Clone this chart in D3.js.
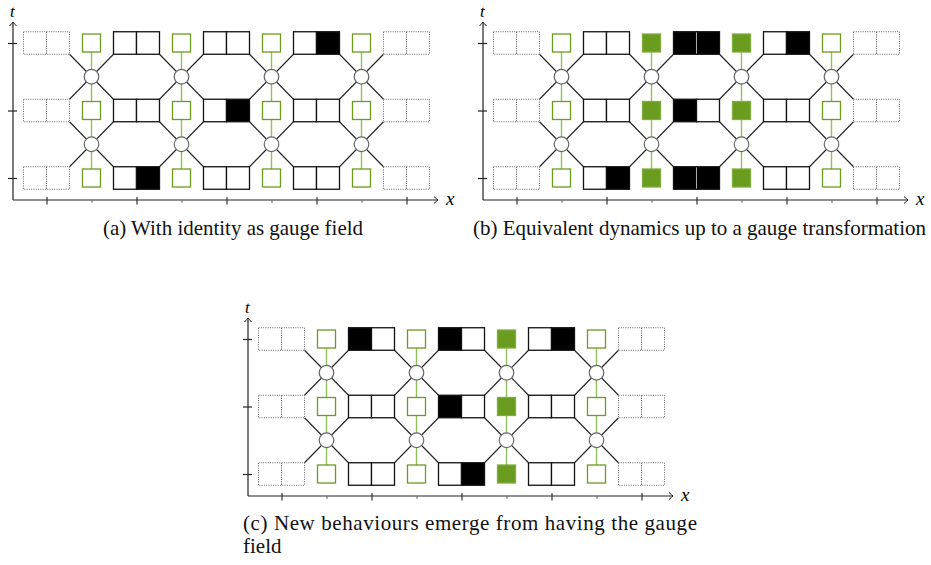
<!DOCTYPE html>
<html>
<head>
<meta charset="utf-8">
<script src="https://cdn.jsdelivr.net/npm/d3@7"></script>
<style>
  html, body { margin: 0; padding: 0; background: #fff; }
  svg { display: block; }
</style>
</head>
<body>
<svg id="chart" width="931" height="565"></svg>
<script>
// ---------------- data ----------------
// time steps (rows, bottom = 0) and tick values
const timeTicks = [0, 1, 2];
const spaceTicks = [0, 0.5, 1, 1.5, 2, 2.5, 3, 3.5, 4];
// pair columns: 0 and 4 are dotted boundary pairs, 1..3 are inner pairs
const pairColumns = [1, 2, 3];
const boundaryColumns = [0, 4];
// gauge columns sit between pairs
const gaugeColumns = [0.5, 1.5, 2.5, 3.5];

// cell states [t][pair][cell] : 1 = black (particle), 0 = empty
const cellsA = [
  [[0, 1], [0, 0], [0, 0]],
  [[0, 0], [0, 1], [0, 0]],
  [[0, 0], [0, 0], [0, 1]]
];
const gaugeA = [
  [0, 0, 0, 0],
  [0, 0, 0, 0],
  [0, 0, 0, 0]
];
const cellsB = [
  [[0, 1], [1, 1], [0, 0]],
  [[0, 0], [1, 0], [0, 0]],
  [[0, 0], [1, 1], [0, 1]]
];
const gaugeB = [
  [0, 1, 1, 0],
  [0, 1, 1, 0],
  [0, 1, 1, 0]
];
const cellsC = [
  [[0, 0], [0, 1], [0, 0]],
  [[0, 0], [1, 0], [0, 0]],
  [[1, 0], [1, 0], [0, 1]]
];
const gaugeC = [
  [0, 0, 1, 0],
  [0, 0, 1, 0],
  [0, 0, 1, 0]
];
const captionA = "(a) With identity as gauge field";
const captionB = "(b) Equivalent dynamics up to a gauge transformation";
const captionC1 = "(c) New behaviours emerge from having the gauge";
const captionC2 = "field";
const axisLabelT = "t";
const axisLabelX = "x";

// ---------------- layout ----------------
const svg = d3.select("#chart");
const SERIF = '"Liberation Serif"';
const GREEN = "#6a9c1f";
const GREEN_LINE = "#8fc05a";
const CELL = 23, CELL_H = 22.5, GSQ = 18, R = 7.3;

const xs = d3.scaleLinear().domain([0, 4]).range([46.5, 406.5]);
const ys = d3.scaleLinear().domain([0, 2]).range([178, 43]);

function drawPanel(g, cells, gauge) {
  const axX0 = 13, axY0 = 200, axXEnd = 438, axYEnd = 22;

  const lines = g.append("g");
  gaugeColumns.forEach(c => {
    lines.append("line")
      .attr("x1", xs(c)).attr("x2", xs(c))
      .attr("y1", ys(2)).attr("y2", ys(0))
      .attr("stroke", GREEN_LINE).attr("stroke-width", 1.4);
  });
  const nodes = [];
  gaugeColumns.forEach(c => [0.5, 1.5].forEach(t => nodes.push({c, t})));
  nodes.forEach(n => {
    const cx = xs(n.c), cy = ys(n.t);
    const left = xs(n.c - 0.5) + CELL, right = xs(n.c + 0.5) - CELL;
    const up = ys(n.t + 0.5) + CELL_H / 2, down = ys(n.t - 0.5) - CELL_H / 2;
    [[left, up], [right, up], [left, down], [right, down]].forEach(p => {
      lines.append("line")
        .attr("x1", cx).attr("y1", cy).attr("x2", p[0]).attr("y2", p[1])
        .attr("stroke", "#222").attr("stroke-width", 1.1);
    });
  });

  timeTicks.forEach(t => {
    boundaryColumns.forEach(c => {
      [0, 1].forEach(i => {
        g.append("rect")
          .attr("x", xs(c) - CELL + i * CELL).attr("y", ys(t) - CELL_H / 2)
          .attr("width", CELL).attr("height", CELL_H)
          .attr("fill", "#fff").attr("stroke", "#666")
          .attr("stroke-width", 1).attr("stroke-dasharray", "1,1.3");
      });
    });
  });

  timeTicks.forEach(t => {
    pairColumns.forEach((c, pi) => {
      cells[t][pi].forEach((v, i) => {
        g.append("rect")
          .attr("x", xs(c) - CELL + i * CELL).attr("y", ys(t) - CELL_H / 2)
          .attr("width", CELL).attr("height", CELL_H)
          .attr("fill", v ? "#000" : "#fff")
          .attr("stroke", "#111").attr("stroke-width", 1.3);
      });
      if (cells[t][pi][0] && cells[t][pi][1]) {
        g.append("line")
          .attr("x1", xs(c)).attr("x2", xs(c))
          .attr("y1", ys(t) - CELL_H / 2 + 0.7).attr("y2", ys(t) + CELL_H / 2 - 0.7)
          .attr("stroke", "#aaa").attr("stroke-width", 1);
      }
    });
  });

  timeTicks.forEach(t => {
    gaugeColumns.forEach((c, gi) => {
      const v = gauge[t][gi];
      g.append("rect")
        .attr("x", xs(c) - GSQ / 2).attr("y", ys(t) - GSQ / 2)
        .attr("width", GSQ).attr("height", GSQ)
        .attr("fill", v ? GREEN : "#fff")
        .attr("stroke", v ? "#7fae3e" : GREEN).attr("stroke-width", 1.3);
    });
  });

  nodes.forEach(n => {
    g.append("circle")
      .attr("cx", xs(n.c)).attr("cy", ys(n.t)).attr("r", R)
      .attr("fill", "#fff").attr("stroke", "#666").attr("stroke-width", 1.2);
  });

  const ax = g.append("g");
  ax.append("line").attr("x1", axX0).attr("y1", axY0).attr("x2", axXEnd).attr("y2", axY0)
    .attr("stroke", "#222").attr("stroke-width", 1.2);
  ax.append("line").attr("x1", axX0).attr("y1", axY0).attr("x2", axX0).attr("y2", axYEnd)
    .attr("stroke", "#222").attr("stroke-width", 1.2);
  ax.append("path")
    .attr("d", `M${axXEnd - 4},${axY0 - 3.5} Q${axXEnd - 1},${axY0 - 0.8} ${axXEnd},${axY0} Q${axXEnd - 1},${axY0 + 0.8} ${axXEnd - 4},${axY0 + 3.5}`)
    .attr("fill", "none").attr("stroke", "#222").attr("stroke-width", 1);
  ax.append("path")
    .attr("d", `M${axX0 - 3.5},${axYEnd + 4} Q${axX0 - 0.8},${axYEnd + 1} ${axX0},${axYEnd} Q${axX0 + 0.8},${axYEnd + 1} ${axX0 + 3.5},${axYEnd + 4}`)
    .attr("fill", "none").attr("stroke", "#222").attr("stroke-width", 1);

  const xAxis = d3.axisBottom(xs).tickValues(spaceTicks).tickSize(4).tickFormat("");
  const xg = ax.append("g").attr("transform", `translate(0,${axY0})`).call(xAxis);
  xg.select(".domain").remove();
  xg.selectAll(".tick line")
    .attr("y1", d => Number.isInteger(d) ? -3 : 0)
    .attr("y2", d => Number.isInteger(d) ? 4.5 : 3)
    .attr("stroke", d => Number.isInteger(d) ? "#333" : "#666")
    .attr("stroke-width", d => Number.isInteger(d) ? 1.2 : 1);

  const yAxis = d3.axisLeft(ys).tickValues(timeTicks).tickSize(5).tickFormat("");
  const yg = ax.append("g").attr("transform", `translate(${axX0},0)`).call(yAxis);
  yg.select(".domain").remove();
  yg.selectAll(".tick line").attr("x1", 4).attr("x2", -5)
    .attr("stroke", "#222").attr("stroke-width", 1.2);

  ax.append("text").attr("x", axX0 - 3).attr("y", 17)
    .style("font-family", SERIF).style("font-style", "italic").style("font-size", "17px")
    .text(axisLabelT);
  ax.append("text").attr("x", axXEnd + 8).attr("y", axY0 + 4.5)
    .style("font-family", SERIF).style("font-style", "italic").style("font-size", "19px")
    .text(axisLabelX);
}

drawPanel(svg.append("g").attr("transform", "translate(0,0)"), cellsA, gaugeA);
drawPanel(svg.append("g").attr("transform", "translate(470,0)"), cellsB, gaugeB);
drawPanel(svg.append("g").attr("transform", "translate(235,296)"), cellsC, gaugeC);

// ---------------- captions ----------------
function caption(x, y, str, len, adj) {
  const t = svg.append("text").attr("x", x).attr("y", y)
    .style("font-family", SERIF).style("font-size", "21px").attr("fill", "#111")
    .text(str);
  if (len) t.attr("textLength", len).attr("lengthAdjust", adj || "spacingAndGlyphs");
  return t;
}
caption(103, 235, captionA, 260);
caption(473, 235, captionB, 453);
caption(243, 530, captionC1, 454, "spacing");
caption(243, 553, captionC2);
</script>
</body>
</html>
